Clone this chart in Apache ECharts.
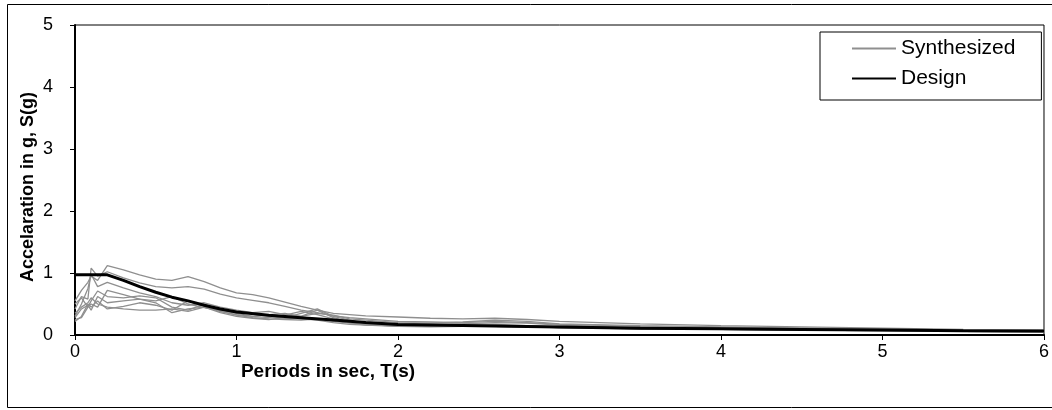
<!DOCTYPE html>
<html>
<head>
<meta charset="utf-8">
<script src="https://cdn.jsdelivr.net/npm/echarts@6/dist/echarts.min.js"></script>
<style>
  html, body { margin: 0; padding: 0; background: #fff; }
  #spectrum { width: 1052px; height: 410px; }
</style>
</head>
<body>
<div id="spectrum"></div>
<script>
// periods (s) used by the synthesized spectra
var periods = [0, 0.04, 0.08, 0.1, 0.14, 0.2, 0.3, 0.4, 0.5, 0.6, 0.7, 0.8, 0.9, 1.0, 1.1, 1.2, 1.3, 1.4, 1.5, 1.6, 1.7, 1.8, 2.0, 2.2, 2.4, 2.6, 2.8, 3.0, 3.5, 4.0, 4.5, 5.0, 5.5, 6.0];

// synthesized spectra, S(g)
var synth1 = [0.55, 0.72, 0.85, 0.95, 0.88, 1.12, 1.05, 0.97, 0.90, 0.88, 0.94, 0.86, 0.76, 0.68, 0.65, 0.60, 0.53, 0.46, 0.40, 0.35, 0.33, 0.31, 0.29, 0.27, 0.26, 0.27, 0.25, 0.22, 0.18, 0.15, 0.13, 0.11, 0.09, 0.08];
var synth2 = [0.42, 0.62, 0.58, 1.08, 0.95, 1.02, 0.92, 0.84, 0.78, 0.76, 0.78, 0.74, 0.66, 0.60, 0.56, 0.52, 0.46, 0.40, 0.36, 0.31, 0.28, 0.26, 0.22, 0.21, 0.20, 0.22, 0.20, 0.17, 0.14, 0.12, 0.11, 0.10, 0.08, 0.07];
var synth3 = [0.30, 0.50, 0.75, 0.98, 0.78, 0.85, 0.76, 0.68, 0.62, 0.52, 0.48, 0.52, 0.45, 0.40, 0.36, 0.38, 0.33, 0.30, 0.35, 0.32, 0.26, 0.24, 0.20, 0.19, 0.21, 0.24, 0.22, 0.18, 0.15, 0.13, 0.11, 0.09, 0.08, 0.07];
var synth4 = [0.25, 0.28, 0.45, 0.55, 0.71, 0.62, 0.60, 0.63, 0.60, 0.45, 0.40, 0.50, 0.40, 0.35, 0.30, 0.33, 0.35, 0.30, 0.40, 0.28, 0.22, 0.20, 0.18, 0.17, 0.18, 0.20, 0.19, 0.16, 0.12, 0.10, 0.09, 0.08, 0.07, 0.06];
var synth5 = [0.22, 0.30, 0.50, 0.45, 0.55, 0.42, 0.46, 0.52, 0.48, 0.40, 0.55, 0.48, 0.38, 0.33, 0.30, 0.28, 0.32, 0.38, 0.33, 0.26, 0.20, 0.16, 0.15, 0.16, 0.18, 0.17, 0.15, 0.13, 0.10, 0.09, 0.08, 0.07, 0.06, 0.05];
var synth6 = [0.28, 0.42, 0.48, 0.40, 0.62, 0.52, 0.55, 0.58, 0.52, 0.36, 0.42, 0.45, 0.36, 0.30, 0.27, 0.25, 0.28, 0.35, 0.42, 0.30, 0.24, 0.18, 0.16, 0.15, 0.16, 0.16, 0.14, 0.12, 0.10, 0.09, 0.08, 0.07, 0.06, 0.05];
var synth7 = [0.50, 0.60, 0.45, 0.50, 0.45, 0.72, 0.65, 0.58, 0.55, 0.62, 0.50, 0.44, 0.40, 0.38, 0.34, 0.30, 0.27, 0.26, 0.24, 0.20, 0.17, 0.16, 0.14, 0.14, 0.15, 0.14, 0.13, 0.12, 0.10, 0.09, 0.08, 0.07, 0.06, 0.05];
var synth8 = [0.35, 0.45, 0.52, 0.60, 0.50, 0.45, 0.42, 0.40, 0.40, 0.42, 0.38, 0.45, 0.38, 0.32, 0.28, 0.26, 0.25, 0.24, 0.26, 0.22, 0.19, 0.17, 0.14, 0.13, 0.14, 0.14, 0.13, 0.12, 0.11, 0.10, 0.09, 0.08, 0.07, 0.06];

// design spectrum
var designPeriods = [0, 0.2, 0.3, 0.4, 0.5, 0.6, 0.7, 0.8, 0.9, 1.0, 1.2, 1.4, 1.6, 1.8, 2.0, 2.5, 3.0, 3.5, 4.0, 4.5, 5.0, 5.5, 6.0];
var designValues = [0.97, 0.97, 0.88, 0.78, 0.69, 0.61, 0.55, 0.48, 0.42, 0.37, 0.32, 0.28, 0.24, 0.20, 0.17, 0.15, 0.13, 0.11, 0.10, 0.09, 0.08, 0.07, 0.065];

var synthSets = [synth1, synth2, synth3, synth4, synth5, synth6, synth7, synth8];

function pairs(xs, ys) {
    return xs.map(function (x, i) { return [x, ys[i]]; });
}

var chart = echarts.init(document.getElementById('spectrum'));

var seriesList = synthSets.map(function (vals) {
    return {
        name: 'Synthesized',
        type: 'line',
        data: pairs(periods, vals),
        symbol: 'none',
        lineStyle: { color: '#8f8f8f', width: 1.3 },
        itemStyle: { color: '#8f8f8f' },
        z: 2
    };
});
seriesList.push({
    name: 'Design',
    type: 'line',
    data: pairs(designPeriods, designValues),
    symbol: 'none',
    lineStyle: { color: '#000', width: 3 },
    itemStyle: { color: '#000' },
    z: 3
});

var font = 'Arial, "Liberation Sans", sans-serif';

chart.setOption({
    animation: false,
    backgroundColor: '#fff',
    grid: {
        left: 75, right: 4, top: 25, bottom: 75,
        show: true, borderColor: '#000', borderWidth: 1
    },
    legend: {
        data: ['Synthesized', 'Design'],
        orient: 'vertical',
        left: 820, top: 32,
        padding: [6, 26, 11, 31],
        itemWidth: 44, itemHeight: 14, itemGap: 9,
        itemStyle: { opacity: 0 },
        borderColor: '#000', borderWidth: 1,
        backgroundColor: '#fff',
        textStyle: { fontFamily: font, fontSize: 21, color: '#000' }
    },
    xAxis: {
        type: 'value', min: 0, max: 6, interval: 1,
        splitLine: { show: false },
        axisLine: { lineStyle: { color: '#000', width: 2 } },
        axisTick: { length: 5, lineStyle: { color: '#000' } },
        axisLabel: { color: '#000', fontFamily: font, fontSize: 18, margin: 8 }
    },
    yAxis: {
        type: 'value', min: 0, max: 5, interval: 1,
        splitLine: { show: false },
        axisLine: { show: true, lineStyle: { color: '#000', width: 2 } },
        axisTick: { show: true, length: 5, lineStyle: { color: '#000' } },
        axisLabel: { color: '#000', fontFamily: font, fontSize: 18, margin: 22 }
    },
    graphic: [
        {
            type: 'rect', silent: true, z: -1,
            shape: { x: 7.5, y: 4.5, width: 1060, height: 403 },
            style: { fill: null, stroke: '#000', lineWidth: 1 }
        },
        {
            type: 'text', x: 28, y: 187, rotation: Math.PI / 2,
            style: {
                text: 'Accelaration in g, S(g)', fill: '#000',
                font: 'bold 18px ' + font, align: 'center', verticalAlign: 'middle'
            }
        },
        {
            type: 'text', x: 328, y: 372,
            style: {
                text: 'Periods in sec, T(s)', fill: '#000',
                font: 'bold 19px ' + font, align: 'center', verticalAlign: 'middle'
            }
        }
    ],
    series: seriesList
});
</script>
</body>
</html>
